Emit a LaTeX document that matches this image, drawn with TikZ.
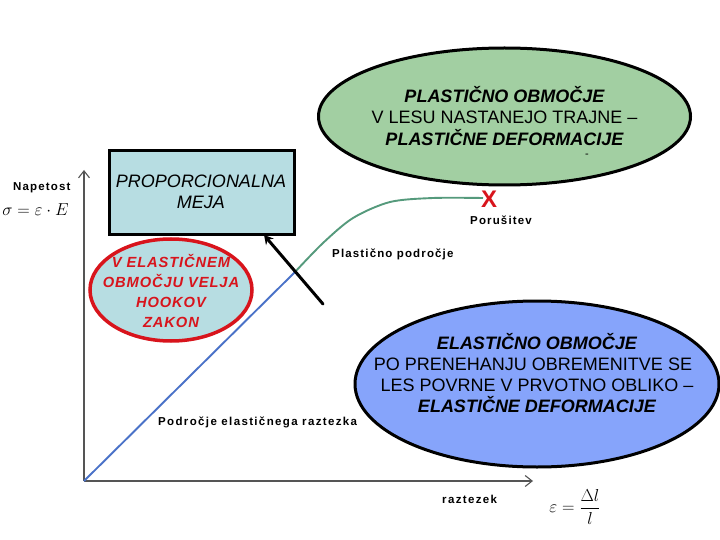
\documentclass[tikz,border=0pt]{standalone}
\usepackage{fontspec}
\setmainfont{Liberation Sans}
\usetikzlibrary{shapes.geometric,arrows.meta}
\newfontfamily\spacedfont[LetterSpace=10]{Liberation Sans}
\newfontfamily\widerfont[LetterSpace=11.8]{Liberation Sans}
\newfontfamily\hookefont[LetterSpace=6]{Liberation Sans}
\definecolor{greenfill}{HTML}{A2CFA2}
\definecolor{bluefill}{HTML}{86A4FB}
\definecolor{tealfill}{HTML}{B7DDE2}
\definecolor{redline}{HTML}{D8141C}
\definecolor{axisgray}{HTML}{555555}
\definecolor{curveblue}{HTML}{4A72C8}
\definecolor{curvegreen}{HTML}{559A7C}
\tikzset{
  x=1pt,y=-1pt,
  blob/.style={ellipse,draw=black,line width=3pt,inner sep=0pt},
  ttext/.style={align=center,inner sep=0pt,font=\fontsize{18}{21.5}\selectfont},
  small/.style={inner sep=0pt,anchor=base west,font=\spacedfont\bfseries\fontsize{11.5}{13}\selectfont},
  axisline/.style={draw=axisgray,line width=1.3pt,-{Straight Barb[length=7pt,width=11pt,line width=1.1pt]}},
  pointer/.style={draw=black,line width=3pt,-{Stealth[length=9pt,width=10pt]},line cap=round}
}
\newcommand{\bi}[1]{{\bfseries\itshape #1}}
\begin{document}
\begin{tikzpicture}
\useasboundingbox (0,0) rectangle (720,540);
\fill[white] (0,0) rectangle (720,540);
% axes
\coordinate (origin) at (84,481);
\coordinate (ytip) at (84,170);
\coordinate (xtip) at (533,481);
\draw[axisline] (origin) -- (ytip);
\draw[axisline] (origin) -- (xtip);
% curve
\coordinate (yield) at (295,272);
\coordinate (failure) at (483,198);
\draw[curveblue,line width=1.9pt] (origin) -- (yield);
\draw[curvegreen,line width=1.9pt] plot[smooth,tension=0.5] coordinates {(295,272) (323,243) (353,218) (390,202) (433,198) (483,198)};
% shapes
\node[draw=black,line width=3pt,fill=tealfill,minimum width=185pt,minimum height=83pt,inner sep=0pt] (propbox) at (201.5,192.5) {};
\node[ellipse,draw=redline,line width=3.5pt,fill=tealfill,minimum width=162pt,minimum height=102pt,inner sep=0pt] (hooke) at (171,290) {};
\node[blob,fill=greenfill,minimum width=372pt,minimum height=137pt] (plastic) at (504.5,116.5) {};
\node[blob,fill=bluefill,minimum width=364pt,minimum height=166pt] (elastic) at (537,384) {};
% pointer
\coordinate (ptail) at (323,304);
\coordinate (phead) at (264,235);
\draw[pointer] (ptail) -- (phead);
% texts
\node[ttext] (proptext) at (201,192) {\textit{PROPORCIONALNA}\\\textit{MEJA}};
\node[ttext,text=redline,font=\hookefont\bfseries\itshape\fontsize{14.7}{20}\selectfont] (hooketext) at (171,290.5) {V ELASTIČNEM\\OBMOČJU VELJA\\HOOKOV\\ZAKON};
\node[ttext] (plastictext) at (504.5,116) {\bi{PLASTIČNO OBMOČJE}\\V LESU NASTANEJO TRAJNE –\\\bi{PLASTIČNE DEFORMACIJE}};
\node[ttext,font=\fontsize{18}{21}\selectfont] (elastictext) at (537,373.5) {\bi{ELASTIČNO OBMOČJE}\\PO PRENEHANJU OBREMENITVE SE\rule{8pt}{0pt}\\LES POVRNE V PRVOTNO OBLIKO –\\\bi{ELASTIČNE DEFORMACIJE}};
\node[inner sep=0pt,font=\fontsize{11}{11}\selectfont] (dash) at (587,156) {-};
\node[text=redline,inner sep=0pt,font=\bfseries\fontsize{24}{24}\selectfont] (xmark) at (489,199) {X};
\node[small] (napetost) at (13,191) {Napetost};
\node[small] (porusitev) at (470,225) {Porušitev};
\node[small] (plpod) at (332,257) {Plastično področje};
\node[small,font=\widerfont\bfseries\fontsize{11.5}{13}\selectfont] (elpod) at (158,425.5) {Področje elastičnega raztezka};
\node[small,font=\widerfont\bfseries\fontsize{11.5}{13}\selectfont] (raztezek) at (442,503) {raztezek};
\node[inner sep=0pt,font=\fontsize{16.5}{18}\selectfont] (sigmaeq) at (35.5,210) {$\sigma=\varepsilon\cdot E$};
\node[inner sep=0pt,font=\fontsize{17}{19}\selectfont] (epseq) at (575,507) {$\displaystyle\varepsilon=\frac{\Delta l}{l}$};
\end{tikzpicture}
\end{document}
